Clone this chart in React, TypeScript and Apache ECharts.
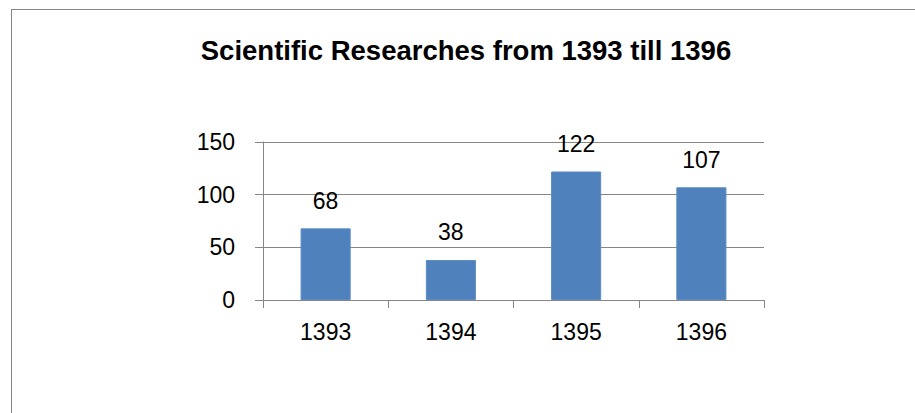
import React, { useEffect, useRef } from "react";
import * as echarts from "echarts";

const categories = ["1393", "1394", "1395", "1396"];
const values = [68, 38, 122, 107];
const titleText = "Scientific Researches from 1393 till 1396";

export default function App() {
  const ref = useRef<HTMLDivElement>(null);
  useEffect(() => {
    if (!ref.current) return;
    const chart = echarts.init(ref.current, null, { renderer: "svg" });
    const font = "'Liberation Sans', Arial, sans-serif";
    chart.setOption({
      animation: false,
      backgroundColor: "#ffffff",
      grid: { left: 263, top: 142, width: 501, height: 158, containLabel: false },
      xAxis: {
        type: "category",
        data: categories,
        axisLine: { show: true, lineStyle: { color: "#868686", width: 1 } },
        axisTick: { show: true, length: 8, lineStyle: { color: "#868686" } },
        axisLabel: { color: "#000", fontSize: 23, fontFamily: font, margin: 20 },
      },
      yAxis: {
        type: "value",
        min: 0,
        max: 150,
        interval: 50,
        axisLine: { show: true, lineStyle: { color: "#868686", width: 1 } },
        axisTick: { show: true, length: 8, lineStyle: { color: "#868686" } },
        axisLabel: { color: "#000", fontSize: 23, fontFamily: font, margin: 28 },
        splitLine: { show: true, lineStyle: { color: "#868686", width: 1 } },
      },
      series: [
        {
          type: "bar",
          data: values,
          barWidth: "40%",
          itemStyle: { color: "#4F81BD", borderColor: "#5B8CC7", borderWidth: 1 },
          label: {
            show: true,
            position: "top",
            distance: 16,
            color: "#000",
            fontSize: 23,
            fontFamily: font,
          },
        },
      ],
      graphic: [
        {
          type: "line",
          shape: { x1: 11, y1: 9.5, x2: 915, y2: 9.5 },
          style: { stroke: "#868686", lineWidth: 1 },
        },
        {
          type: "line",
          shape: { x1: 11.5, y1: 9, x2: 11.5, y2: 413 },
          style: { stroke: "#868686", lineWidth: 1 },
        },
        {
          type: "text",
          x: 466,
          y: 50,
          style: {
            text: titleText,
            fill: "#000",
            fontSize: 27.5,
            fontWeight: "bold",
            fontFamily: font,
            align: "center",
            verticalAlign: "middle",
          },
        },
      ],
    });
    return () => chart.dispose();
  }, []);
  return (
    <div
      ref={ref}
      style={{ position: "fixed", left: 0, top: 0, width: 915, height: 413 }}
    />
  );
}
